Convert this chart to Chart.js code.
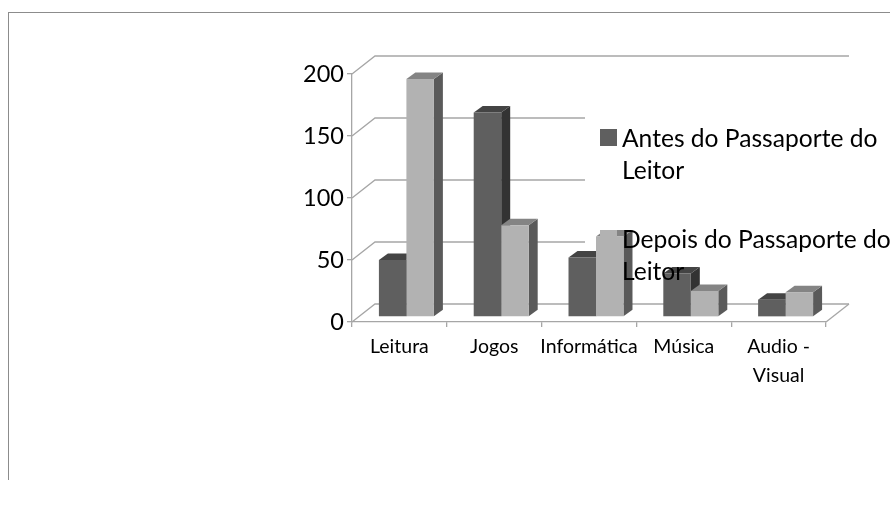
<!DOCTYPE html>
<html lang="pt">
<head>
<meta charset="UTF-8">
<title>Antes e depois do Passaporte do Leitor</title>
<script src="https://cdn.jsdelivr.net/npm/chart.js"></script>
<style>
  html, body { margin: 0; padding: 0; background: #fff; overflow: hidden; }
  #wrap { position: relative; width: 890px; height: 507px; }
  #moldura { position: absolute; left: 8px; top: 12px; width: 882px; height: 468px;
             border-left: 1.5px solid #8c8c8c; border-top: 1.5px solid #8c8c8c; box-sizing: border-box; }
  canvas { position: absolute; left: 0; top: 0; }
</style>
</head>
<body>
<div id="wrap">
  <div id="moldura"></div>
  <canvas id="grafico" width="890" height="507"></canvas>
</div>
<script>
// dados
const categorias = ['Leitura', 'Jogos', 'Informática', 'Música', ['Audio -', 'Visual']];
const antes = [46, 165, 48, 35, 14];
const depois = [192, 74, 65, 21, 20];
const marcasY = [0, 50, 100, 150, 200];
const legendaAntes = ['Antes do Passaporte do', 'Leitor'];
const legendaDepois = ['Depois do Passaporte do', 'Leitor'];

// cores de cada serie: frente, lado, topo
const coresAntes = ['#5f5f5f', '#333333', '#444444'];
const coresDepois = ['#b2b2b2', '#5a5a5a', '#848484'];
const corGrade = '#a6a6a6';
const fonte = 'Lato, "Open Sans", sans-serif';

// falso 3D: fundo do grafico e profundidade das barras
const fundoX = 23, fundoY = -18;
const barraX = 7, barraY = -5;
const ladoX = 9, ladoY = -6.5;

function ladosDaSerie(ctx, meta, cores) {
  meta.data.forEach(bar => {
    const esq = bar.x - bar.width / 2, dir = bar.x + bar.width / 2;
    ctx.fillStyle = cores[1];
    ctx.beginPath();
    ctx.moveTo(dir, bar.y);
    ctx.lineTo(dir + ladoX, bar.y + ladoY);
    ctx.lineTo(dir + ladoX, bar.base + ladoY);
    ctx.lineTo(dir, bar.base);
    ctx.closePath();
    ctx.fill();
    ctx.fillStyle = cores[2];
    ctx.beginPath();
    ctx.moveTo(esq, bar.y);
    ctx.lineTo(esq + ladoX, bar.y + ladoY);
    ctx.lineTo(dir + ladoX, bar.y + ladoY);
    ctx.lineTo(dir, bar.y);
    ctx.closePath();
    ctx.fill();
  });
}

const grade3d = {
  id: 'grade3d',
  beforeDatasetsDraw(chart) {
    const { ctx, chartArea, scales } = chart;
    ctx.save();
    ctx.strokeStyle = corGrade;
    ctx.lineWidth = 1.3;
    marcasY.forEach(v => {
      const y = scales.y.getPixelForValue(v);
      // as linhas do meio somem atras da legenda
      const fim = (v === 0 || v === 200) ? chartArea.right + fundoX : 585;
      ctx.beginPath();
      ctx.moveTo(chartArea.left, y);
      ctx.lineTo(chartArea.left + fundoX, y + fundoY);
      ctx.lineTo(fim, y + fundoY);
      ctx.stroke();
    });
    // canto direito do piso
    ctx.beginPath();
    ctx.moveTo(chartArea.right, chartArea.bottom);
    ctx.lineTo(chartArea.right + fundoX, chartArea.bottom + fundoY);
    ctx.stroke();
    ctx.restore();
    // barras ficam um pouco para dentro do piso
    ctx.save();
    ctx.translate(barraX, barraY);
    // lados primeiro: a frente da serie seguinte cobre o lado da anterior
    ladosDaSerie(ctx, chart.getDatasetMeta(0), coresAntes);
    ladosDaSerie(ctx, chart.getDatasetMeta(1), coresDepois);
  },
  afterDatasetsDraw(chart) {
    const { ctx } = chart;
    ctx.restore();
    // legenda por cima das barras, como no original
    ctx.save();
    ctx.textBaseline = 'middle';
    ctx.font = '24.6px ' + fonte;
    const itens = [[legendaAntes, coresAntes[0], 138], [legendaDepois, coresDepois[0], 239]];
    itens.forEach(([linhas, cor, y]) => {
      ctx.fillStyle = cor;
      ctx.fillRect(600, y - 9, 17, 17);
      ctx.fillStyle = '#000';
      linhas.forEach((txt, i) => ctx.fillText(txt, 622, y + 1 + i * 32));
    });
    ctx.restore();
  }
};

new Chart(document.getElementById('grafico'), {
  type: 'bar',
  data: {
    labels: categorias,
    datasets: [
      { label: legendaAntes.join(' '), data: antes, backgroundColor: coresAntes[0], clip: false },
      { label: legendaDepois.join(' '), data: depois, backgroundColor: coresDepois[0], clip: false }
    ]
  },
  plugins: [grade3d],
  options: {
    responsive: false,
    animation: false,
    layout: { padding: { left: 292, right: 64, top: 74, bottom: 85 } },
    categoryPercentage: 0.58,
    barPercentage: 1,
    plugins: { legend: { display: false }, tooltip: { enabled: false } },
    scales: {
      x: {
        afterFit(s) { s.height = 100; },
        grid: { offset: true, drawOnChartArea: false, color: corGrade, lineWidth: 1.3, tickLength: 5 },
        border: { color: corGrade, width: 1.3 },
        ticks: {
          color: '#000', padding: 5, maxRotation: 0, autoSkip: false,
          font: { family: fonte, size: 19.5, lineHeight: 1.49 }
        }
      },
      y: {
        min: 0, max: 200,
        afterFit(s) { s.width = 60; },
        afterBuildTicks(s) { s.ticks = marcasY.map(v => ({ value: v })); },
        grid: { drawOnChartArea: false, color: corGrade, lineWidth: 1.3, tickLength: 5 },
        border: { color: corGrade, width: 1.3 },
        ticks: { color: '#000', padding: 3, font: { family: fonte, size: 23.5 } }
      }
    }
  }
});
</script>
</body>
</html>
